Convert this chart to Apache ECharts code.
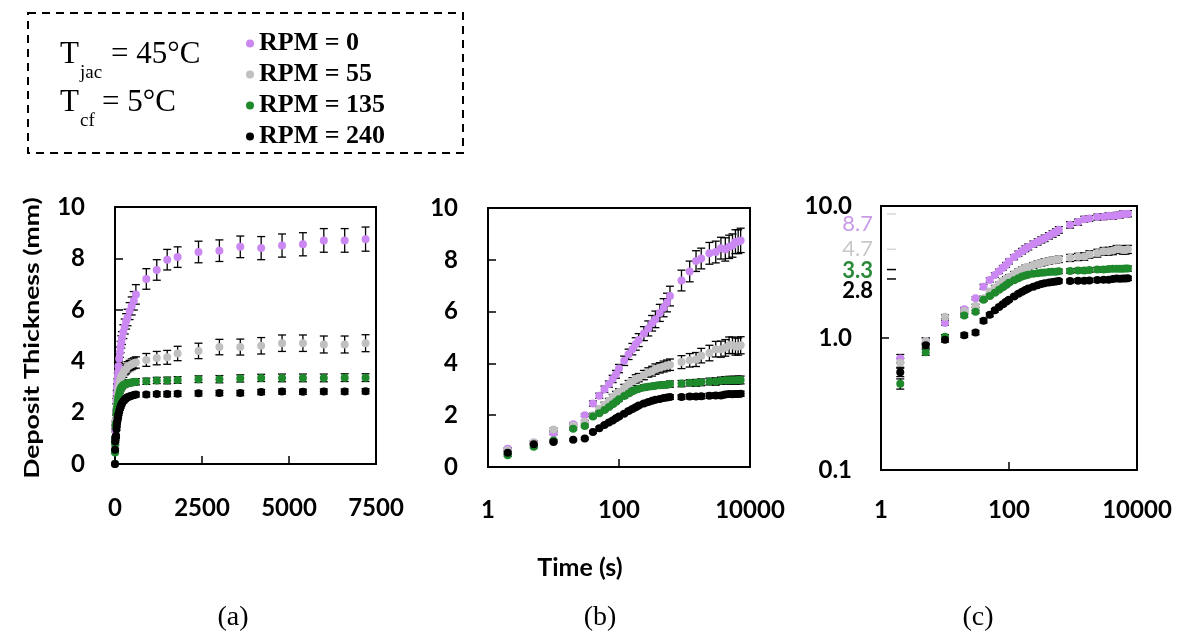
<!DOCTYPE html>
<html>
<head>
<meta charset="utf-8">
<script src="https://cdn.jsdelivr.net/npm/echarts@6/dist/echarts.min.js"></script>
<style>
  html, body { margin: 0; padding: 0; background: #ffffff; }
  #chart { width: 1190px; height: 640px; }
</style>
</head>
<body>
<div id="chart"></div>
<script>
// ---------------- DATA ----------------
const SERIES_NAMES = ['RPM = 0', 'RPM = 55', 'RPM = 135', 'RPM = 240'];
const TIME_S = [2, 5, 10, 20, 30, 40, 50, 60, 70, 80, 90, 100, 120, 140, 160, 180, 200, 240, 280, 320,
  360, 420, 480, 540, 600, 900, 1200, 1500, 1800, 2400, 3000, 3600, 4200, 4800, 5400, 6000, 6600, 7200];
const ORIGIN_POINT = [0, 0]; // t = 0 point visible only on the linear panel (a)

const RPM0 = [0.70, 0.95, 1.30, 1.65, 2.00, 2.45, 2.75, 3.00, 3.20, 3.40, 3.58, 3.80, 4.10, 4.35, 4.55,
  4.75, 4.90, 5.15, 5.35, 5.55, 5.70, 5.95, 6.15, 6.35, 6.60, 7.20, 7.55, 7.95, 8.05, 8.25,
  8.30, 8.45, 8.40, 8.50, 8.55, 8.70, 8.70, 8.75];
const RPM55 = [0.65, 0.95, 1.45, 1.60, 1.75, 2.00, 2.25, 2.40, 2.55, 2.70, 2.80, 2.90, 3.05, 3.20, 3.30,
  3.40, 3.45, 3.55, 3.65, 3.70, 3.78, 3.83, 3.88, 3.92, 3.95, 4.05, 4.12, 4.15, 4.30, 4.40,
  4.55, 4.55, 4.60, 4.70, 4.70, 4.65, 4.65, 4.70];
const RPM135 = [0.45, 0.78, 1.02, 1.48, 1.58, 1.95, 2.08, 2.20, 2.32, 2.42, 2.52, 2.62, 2.74, 2.84, 2.92,
  2.98, 3.02, 3.07, 3.10, 3.12, 3.14, 3.16, 3.17, 3.18, 3.20, 3.22, 3.25, 3.25, 3.27, 3.30,
  3.30, 3.33, 3.35, 3.35, 3.35, 3.35, 3.36, 3.36];
const RPM240 = [0.55, 0.88, 0.97, 1.05, 1.10, 1.35, 1.50, 1.62, 1.72, 1.80, 1.88, 1.95, 2.06, 2.16, 2.24,
  2.31, 2.37, 2.45, 2.51, 2.56, 2.60, 2.63, 2.66, 2.68, 2.70, 2.70, 2.72, 2.72, 2.73, 2.75,
  2.76, 2.76, 2.80, 2.82, 2.81, 2.82, 2.82, 2.83];

const ERR0 = [0.05, 0.05, 0.05, 0.05, 0.05, 0.10, 0.10, 0.12, 0.12, 0.14, 0.15, 0.16, 0.18, 0.20, 0.22,
  0.24, 0.25, 0.27, 0.29, 0.30, 0.32, 0.33, 0.35, 0.36, 0.38, 0.40, 0.40, 0.40, 0.40, 0.42,
  0.42, 0.42, 0.45, 0.45, 0.45, 0.46, 0.46, 0.47];
const ERR55 = [0.05, 0.05, 0.05, 0.05, 0.05, 0.08, 0.08, 0.10, 0.10, 0.10, 0.12, 0.12, 0.14, 0.14, 0.15,
  0.16, 0.16, 0.18, 0.18, 0.19, 0.20, 0.20, 0.21, 0.21, 0.22, 0.25, 0.26, 0.27, 0.28, 0.30,
  0.30, 0.31, 0.32, 0.32, 0.32, 0.33, 0.33, 0.33];
const ERR135 = [0.04, 0.04, 0.04, 0.04, 0.04, 0.05, 0.05, 0.06, 0.06, 0.06, 0.07, 0.07, 0.08, 0.08, 0.08,
  0.09, 0.09, 0.10, 0.10, 0.10, 0.10, 0.11, 0.11, 0.11, 0.12, 0.12, 0.12, 0.13, 0.13, 0.13,
  0.14, 0.14, 0.14, 0.15, 0.15, 0.15, 0.15, 0.15];
const ERR240 = [0.04, 0.04, 0.04, 0.04, 0.04, 0.05, 0.05, 0.05, 0.05, 0.06, 0.06, 0.06, 0.06, 0.07, 0.07,
  0.07, 0.07, 0.08, 0.08, 0.08, 0.08, 0.08, 0.09, 0.09, 0.09, 0.09, 0.09, 0.10, 0.10, 0.10,
  0.10, 0.10, 0.10, 0.10, 0.10, 0.10, 0.10, 0.10];

// final-value annotations on panel (c)
const ANNOT_VALUES = [8.7, 4.7, 3.3, 2.8];
const ANNOT_LABELS = ['8.7', '4.7', '3.3', '2.8'];

// tick labels / axis ranges
const Y_LIN = { min: 0, max: 10, interval: 2 };
const X_LIN = { min: 0, max: 7500, interval: 2500 };
const X_LOG = { min: 1, max: 10000 };
const Y_LOG = { min: 0.1, max: 10 };

// ---------------- STYLE ----------------
const COLORS = ['#cc88f2', '#c0c0c0', '#1e8a2c', '#000000'];
const ANNOT_COLORS = ['#c99ae8', '#c8c8c8', '#2a8a3a', '#000000'];
const ANNOT_TICK_COLORS = ['#d8d8d8', '#d8d8d8', '#000000', '#000000'];
const ANNOT_NUDGE = [10, 0, 1, 12];
const ANNOT_WEIGHT = ['normal', 'normal', 'bold', 'bold'];
const TICK_FONT = 'Lato';

const VALUES = [RPM0, RPM55, RPM135, RPM240];
const ERRORS = [ERR0, ERR55, ERR135, ERR240];

const chart = echarts.init(document.getElementById('chart'), null, { renderer: 'canvas' });

const grids = [
  { left: 115, top: 207, width: 261, height: 257 },
  { left: 488, top: 208, width: 262, height: 259 },
  { left: 881, top: 206, width: 256, height: 264 }
].map(g => Object.assign({ show: true, borderColor: '#000', borderWidth: 2, backgroundColor: 'transparent' }, g));

function axisCommon(margin) {
  return {
    axisLine: { show: true, lineStyle: { color: '#000', width: 2 } },
    axisTick: { show: true, inside: true, length: 8, lineStyle: { color: '#000', width: 1.5 } },
    splitLine: { show: false },
    axisLabel: {
      color: '#000', fontFamily: TICK_FONT, fontWeight: 'bold', fontSize: 24, margin: margin,
      showMinLabel: true, showMaxLabel: true,
      formatter: v => String(v)
    }
  };
}

const xAxes = [
  Object.assign(axisCommon(32), { type: 'value', gridIndex: 0, min: X_LIN.min, max: X_LIN.max, interval: X_LIN.interval }),
  Object.assign(axisCommon(31), { type: 'log', logBase: 10, gridIndex: 1, min: X_LOG.min, max: X_LOG.max, interval: 2 }),
  Object.assign(axisCommon(28), { type: 'log', logBase: 10, gridIndex: 2, min: X_LOG.min, max: X_LOG.max, interval: 2 })
];
const yAxes = [
  Object.assign(axisCommon(30), { type: 'value', gridIndex: 0, min: Y_LIN.min, max: Y_LIN.max, interval: Y_LIN.interval }),
  Object.assign(axisCommon(30), { type: 'value', gridIndex: 1, min: Y_LIN.min, max: Y_LIN.max, interval: Y_LIN.interval }),
  Object.assign(axisCommon(29), { type: 'log', logBase: 10, gridIndex: 2, min: Y_LOG.min, max: Y_LOG.max })
];
yAxes[2].axisLabel = Object.assign({}, yAxes[2].axisLabel, { formatter: v => Number(v).toFixed(1) });

function errRender(params, api) {
  const x = api.value(0), lo = api.value(1), hi = api.value(2);
  const p1 = api.coord([x, lo]);
  const p2 = api.coord([x, hi]);
  const w = 4;
  const st = { stroke: '#000', lineWidth: 1.3 };
  return {
    type: 'group',
    children: [
      { type: 'line', shape: { x1: p1[0], y1: p1[1], x2: p2[0], y2: p2[1] }, style: st },
      { type: 'line', shape: { x1: p1[0] - w, y1: p1[1], x2: p1[0] + w, y2: p1[1] }, style: st },
      { type: 'line', shape: { x1: p2[0] - w, y1: p2[1], x2: p2[0] + w, y2: p2[1] }, style: st }
    ]
  };
}

const series = [];
// error bars first (underneath markers)
for (let g = 0; g < 3; g++) {
  for (let s = 0; s < 4; s++) {
    const data = TIME_S.map((t, i) => [t, VALUES[s][i] - ERRORS[s][i], VALUES[s][i] + ERRORS[s][i]]);
    series.push({
      type: 'custom', name: SERIES_NAMES[s] + ' err', xAxisIndex: g, yAxisIndex: g,
      renderItem: errRender, data: data, z: 2, silent: true,
      encode: { x: 0, y: [1, 2] }
    });
  }
}
for (let g = 0; g < 3; g++) {
  for (let s = 0; s < 4; s++) {
    let data = TIME_S.map((t, i) => [t, VALUES[s][i]]);
    if (g === 0) data = [ORIGIN_POINT.slice()].concat(data);
    series.push({
      type: 'scatter', name: SERIES_NAMES[s], xAxisIndex: g, yAxisIndex: g,
      symbol: 'circle', symbolSize: 8, data: data, z: 3 + s,
      itemStyle: { color: COLORS[s], opacity: 1 },
      emphasis: { disabled: true }
    });
  }
}
// annotations on panel (c)
series.push({
  type: 'custom', name: 'annot', xAxisIndex: 2, yAxisIndex: 2, clip: false, silent: true, z: 10,
  data: ANNOT_VALUES.map(v => [X_LOG.min, v]),
  renderItem: function (params, api) {
    const i = params.dataIndex;
    const p = api.coord([api.value(0), api.value(1)]);
    return {
      type: 'group',
      children: [
        { type: 'line', shape: { x1: p[0] + 6, y1: p[1], x2: p[0] + 15, y2: p[1] },
          style: { stroke: ANNOT_TICK_COLORS[i], lineWidth: 1.5 } },
        { type: 'text', x: p[0] - 8, y: p[1] + ANNOT_NUDGE[i],
          style: { text: ANNOT_LABELS[i], fill: ANNOT_COLORS[i], align: 'right', verticalAlign: 'middle',
            font: ANNOT_WEIGHT[i] + ' 22px ' + TICK_FONT } }
      ]
    };
  }
});

const serif = '"Liberation Serif", "Times New Roman", serif';
const option = {
  animation: false,
  backgroundColor: '#ffffff',
  grid: grids,
  xAxis: xAxes,
  yAxis: yAxes,
  legend: {
    data: SERIES_NAMES,
    orient: 'vertical',
    left: 241, top: 23,
    icon: 'circle', itemWidth: 8, itemHeight: 8, itemGap: 0,
    selectedMode: false,
    textStyle: { fontFamily: serif, fontWeight: 'bold', fontSize: 26, color: '#000', lineHeight: 31 }
  },
  graphic: [
    { type: 'rect', shape: { x: 28, y: 13, width: 435, height: 140 },
      style: { fill: 'none', stroke: '#000', lineWidth: 2, lineDash: [8, 6] } },
    { type: 'text', x: 60, y: 55, style: { text: 'T', font: '31px ' + serif, fill: '#000', verticalAlign: 'middle' } },
    { type: 'text', x: 80, y: 73, style: { text: 'jac', font: '19px ' + serif, fill: '#000', verticalAlign: 'middle' } },
    { type: 'text', x: 111, y: 55, style: { text: '= 45°C', font: '31px ' + serif, fill: '#000', verticalAlign: 'middle' } },
    { type: 'text', x: 60, y: 103, style: { text: 'T', font: '31px ' + serif, fill: '#000', verticalAlign: 'middle' } },
    { type: 'text', x: 80, y: 121, style: { text: 'cf', font: '19px ' + serif, fill: '#000', verticalAlign: 'middle' } },
    { type: 'text', x: 102, y: 103, style: { text: '= 5°C', font: '31px ' + serif, fill: '#000', verticalAlign: 'middle' } },
    { type: 'text', x: 33, y: 338, rotation: Math.PI / 2, scaleX: 1.33,
      style: { text: 'Deposit Thickness (mm)', font: 'bold 20px ' + TICK_FONT, fill: '#000', align: 'center', verticalAlign: 'middle' } },
    { type: 'text', x: 580, y: 568,
      style: { text: 'Time (s)', font: 'bold 25px ' + TICK_FONT, fill: '#000', align: 'center', verticalAlign: 'middle' } },
    { type: 'text', x: 233, y: 618, style: { text: '(a)', font: '28px ' + serif, fill: '#000', align: 'center', verticalAlign: 'middle' } },
    { type: 'text', x: 600, y: 618, style: { text: '(b)', font: '28px ' + serif, fill: '#000', align: 'center', verticalAlign: 'middle' } },
    { type: 'text', x: 978, y: 618, style: { text: '(c)', font: '28px ' + serif, fill: '#000', align: 'center', verticalAlign: 'middle' } }
  ],
  series: series
};
chart.setOption(option);
</script>
</body>
</html>
